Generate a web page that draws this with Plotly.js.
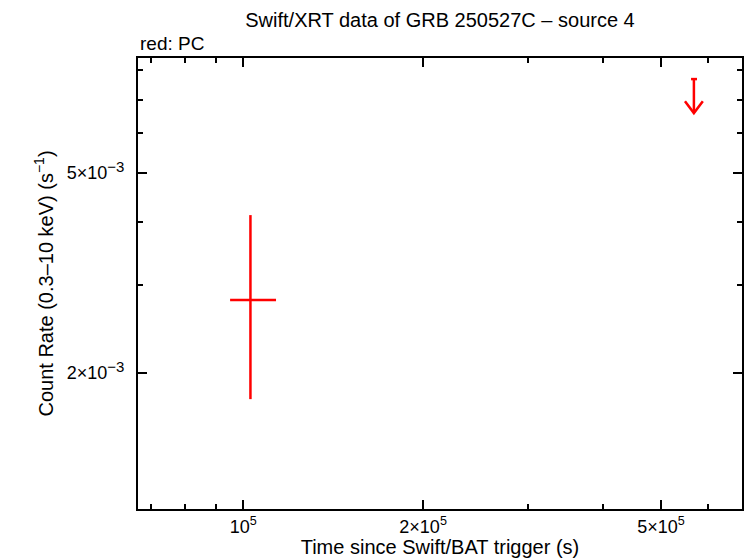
<!DOCTYPE html>
<html>
<head>
<meta charset="utf-8">
<script src="https://cdn.plot.ly/plotly-3.0.1.min.js"></script>
<style>html,body{margin:0;padding:0;background:#fff;}#chart{width:746px;height:558px;}</style>
</head>
<body>
<div id="chart"></div>
<script>
// PC mode detection
var pcTime = [102850];
var pcTimeErrMinus = [7750];
var pcTimeErrPlus = [10650];
var pcRate = [2.794e-3];
var pcRateErrPlus = [1.330e-3];
var pcRateErrMinus = [1.019e-3];

// PC mode upper limit
var ulTime = [567500];
var ulTimeErrMinus = [6200];
var ulTimeErrPlus = [6800];
var ulRate = [7.69e-3];
var ulArrowTip = [6.58e-3];

var xTickVals = [1e5, 2e5, 5e5];
var xTickText = ['10<sup>5</sup>', '2×10<sup>5</sup>', '5×10<sup>5</sup>'];
var xMinorVals = [7e4, 8e4, 9e4, 3e5, 4e5, 6e5];
var yTickVals = [2e-3, 5e-3];
var yTickText = ['2×10<sup><span style="font-size:15px">−3</span></sup>', '5×10<sup><span style="font-size:15px">−3</span></sup>'];
var yMinorVals = [3e-3, 4e-3, 6e-3, 7e-3, 8e-3];

var red = '#ff0000';
var traces = [];

traces.push({
  type: 'scatter', mode: 'markers', x: pcTime, y: pcRate,
  marker: {size: 1, color: red},
  error_x: {type: 'data', symmetric: false, array: pcTimeErrPlus, arrayminus: pcTimeErrMinus, color: red, thickness: 2.5, width: 0},
  error_y: {type: 'data', symmetric: false, array: pcRateErrPlus, arrayminus: pcRateErrMinus, color: red, thickness: 2.5, width: 0},
  hoverinfo: 'skip', showlegend: false
});

traces.push({
  type: 'scatter', mode: 'markers', x: ulTime, y: ulRate,
  marker: {size: 1, color: red},
  error_x: {type: 'data', symmetric: false, array: ulTimeErrPlus, arrayminus: ulTimeErrMinus, color: red, thickness: 2.5, width: 0},
  hoverinfo: 'skip', showlegend: false
});

// arrow shaft and head (head size is a style factor applied around the data point)
var headDx = 1.035, headDy = 1.056;
for (var i = 0; i < ulTime.length; i++) {
  traces.push({
    type: 'scatter', mode: 'lines',
    x: [ulTime[i], ulTime[i]], y: [ulRate[i], ulArrowTip[i]],
    line: {color: red, width: 2.5}, hoverinfo: 'skip', showlegend: false
  });
  traces.push({
    type: 'scatter', mode: 'lines',
    x: [ulTime[i] / headDx, ulTime[i], ulTime[i] * headDx],
    y: [ulArrowTip[i] * headDy, ulArrowTip[i], ulArrowTip[i] * headDy],
    line: {color: red, width: 2.5}, hoverinfo: 'skip', showlegend: false
  });
}

var font = 'Liberation Sans, Arial, sans-serif';
var layout = {
  width: 746, height: 558,
  margin: {l: 138, r: 4, t: 58, b: 49},
  paper_bgcolor: '#fff', plot_bgcolor: '#fff',
  font: {family: font, color: '#000', size: 17},
  title: {text: 'Swift/XRT data of GRB 250527C – source 4', font: {size: 20, family: font, color: '#000'},
          x: 0.5, xref: 'paper', y: 1 - 20 / 558, yref: 'container', yanchor: 'middle'},
  xaxis: {
    type: 'log', range: [Math.log10(66700), Math.log10(683000)],
    showline: true, linewidth: 2, linecolor: '#000', mirror: 'allticks',
    ticks: 'inside', ticklen: 9, tickwidth: 2, tickcolor: '#000',
    tickmode: 'array', tickvals: xTickVals, ticktext: xTickText,
    minor: {tickmode: 'array', tickvals: xMinorVals, ticks: 'inside', ticklen: 5, tickwidth: 2, tickcolor: '#000', showgrid: false},
    showgrid: false, zeroline: false,
    tickfont: {size: 18, family: font},
    title: {text: 'Time since Swift/BAT trigger (s)', font: {size: 20, family: font}, standoff: 2}
  },
  yaxis: {
    type: 'log', range: [Math.log10(1.073e-3), Math.log10(8.47e-3)],
    showline: true, linewidth: 2, linecolor: '#000', mirror: 'allticks',
    ticks: 'inside', ticklen: 9, tickwidth: 2, tickcolor: '#000',
    tickmode: 'array', tickvals: yTickVals, ticktext: yTickText,
    minor: {tickmode: 'array', tickvals: yMinorVals, ticks: 'inside', ticklen: 5, tickwidth: 2, tickcolor: '#000', showgrid: false},
    showgrid: false, zeroline: false,
    tickfont: {size: 18, family: font},
    ticklabelstandoff: 8,
    title: {text: 'Count Rate (0.3–10 keV) (s<sup>−1</sup>)', font: {size: 20, family: font}, standoff: 8}
  },
  annotations: [{
    text: 'red: PC', xref: 'paper', yref: 'paper', x: 0, y: 1 + 15 / 451,
    xanchor: 'left', yanchor: 'middle', showarrow: false, font: {size: 19, family: font, color: '#000'}
  }]
};

Plotly.newPlot('chart', traces, layout, {staticPlot: true, displayModeBar: false});
</script>
</body>
</html>
